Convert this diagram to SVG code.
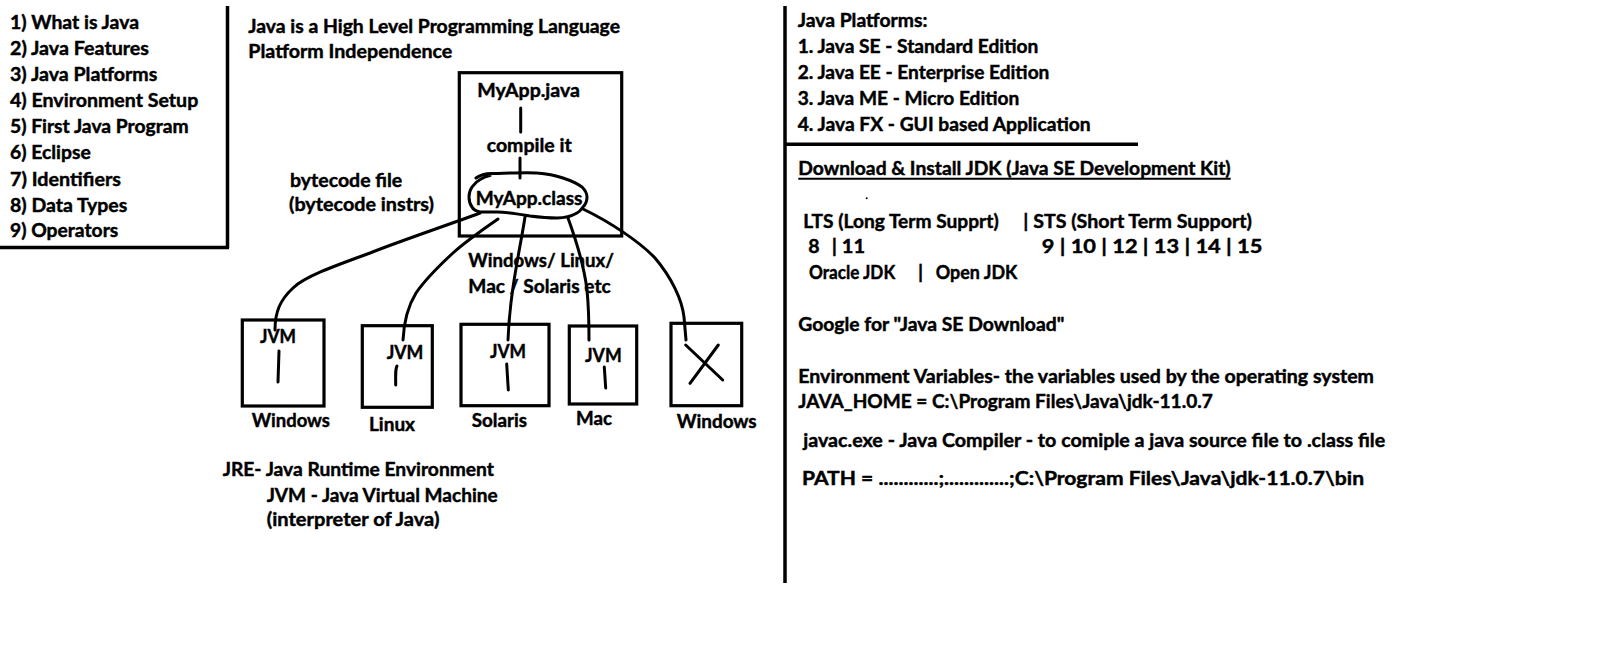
<svg xmlns="http://www.w3.org/2000/svg" width="1608" height="654" viewBox="0 0 1608 654">
<style>
.t{font-family:Lato,"Open Sans","Liberation Sans",sans-serif;font-weight:700;font-size:19.5px;fill:#000;stroke:#000;stroke-width:0.45px}
.ln{fill:none;stroke:#000;stroke-width:3;stroke-linecap:round;stroke-linejoin:round}
.bx{fill:none;stroke:#000;stroke-width:3.2}
.dv{fill:none;stroke:#000;stroke-width:3.5}
</style>
<rect width="1608" height="654" fill="#fff"/>

<g id="topics">
<path class="dv" d="M227.5,6 V248 M0,247.5 H229"/>
<text class="t" x="10" y="29.3" textLength="129" lengthAdjust="spacingAndGlyphs">1) What is Java</text>
<text class="t" x="10" y="55.3" textLength="139" lengthAdjust="spacingAndGlyphs">2) Java Features</text>
<text class="t" x="10" y="81.3" textLength="147.3" lengthAdjust="spacingAndGlyphs">3) Java Platforms</text>
<text class="t" x="10" y="107.3" textLength="188.3" lengthAdjust="spacingAndGlyphs">4) Environment Setup</text>
<text class="t" x="10" y="133.3" textLength="178.7" lengthAdjust="spacingAndGlyphs">5) First Java Program</text>
<text class="t" x="10" y="159.3" textLength="80.7" lengthAdjust="spacingAndGlyphs">6) Eclipse</text>
<text class="t" x="10" y="185.5" textLength="111" lengthAdjust="spacingAndGlyphs">7) Identifiers</text>
<text class="t" x="10" y="211.5" textLength="117.3" lengthAdjust="spacingAndGlyphs">8) Data Types</text>
<text class="t" x="10" y="237.3" textLength="108.3" lengthAdjust="spacingAndGlyphs">9) Operators</text>
</g>

<g id="intro">
<text class="t" x="248.3" y="32.7" textLength="371.7" lengthAdjust="spacingAndGlyphs">Java is a High Level Programming Language</text>
<text class="t" x="248.3" y="58.3" textLength="204" lengthAdjust="spacingAndGlyphs">Platform Independence</text>
<text class="t" x="290" y="187.3" textLength="112.3" lengthAdjust="spacingAndGlyphs">bytecode file</text>
<text class="t" x="289" y="211" textLength="145" lengthAdjust="spacingAndGlyphs">(bytecode instrs)</text>
<text class="t" x="468.3" y="266.7" textLength="145.7" lengthAdjust="spacingAndGlyphs">Windows/ Linux/</text>
<text class="t" x="468.3" y="292.7" textLength="142.4" lengthAdjust="spacingAndGlyphs">Mac / Solaris etc</text>
</g>

<g id="myapp">
<rect class="bx" x="459.3" y="72.7" width="162.4" height="163.3"/>
<text class="t" x="477.3" y="96.7" textLength="102.7" lengthAdjust="spacingAndGlyphs">MyApp.java</text>
<path class="ln" d="M520.7,108 V132"/>
<text class="t" x="486.7" y="151.7" textLength="85" lengthAdjust="spacingAndGlyphs">compile it</text>
<path class="ln" d="M520,158 V178"/>
<text class="t" x="475.7" y="204.5" textLength="106.7" lengthAdjust="spacingAndGlyphs">MyApp.class</text>
<path class="ln" d="M476,178 C480,175 486,173 494,173.5 C510,173 530,172 537,173 C550,174 557,176 563,178 C572,181 578,184 582,187 C586,191 587,194 587,197 C587,201 586,204 583,207 C581,210 579,212 577,213 C570,217 563,218 557,218 C548,218 538,217 530,216 C518,214 507,212 497,212 C490,212 484,212 480,212 C476,211 473,209 472,207 C469,203 469,200 469,197 C469,193 470,190 472,187 C474,184 477,181 481,179 C484,177 487,176 490,175.5"/>
</g>

<g id="connectors">
<path class="ln" d="M480,213 C445,226 400,241 370,253 C340,264 305,276 293,288 C280,300 275,312 275,330"/>
<path class="ln" d="M498,219 C485,228 465,242 453,253 C440,265 425,280 416,293 C408,306 404,320 403,340"/>
<path class="ln" d="M525,217 C520,250 510,290 508,340"/>
<path class="ln" d="M568,218 C576,240 584,265 587,290 C589,310 589,325 589,340"/>
<path class="ln" d="M583,209 C610,222 640,242 655,258 C672,278 682,300 684,317 L686,340"/>
</g>

<g id="jvm-windows">
<rect class="bx" x="242.3" y="320" width="81.7" height="86"/>
<text class="t" x="260" y="343.3" textLength="36" lengthAdjust="spacingAndGlyphs">JVM</text>
<path class="ln" d="M279,351 L278,382"/>
<text class="t" x="251.7" y="426.5" textLength="78.3" lengthAdjust="spacingAndGlyphs">Windows</text>
</g>

<g id="jvm-linux">
<rect class="bx" x="362.3" y="325.7" width="70" height="81.6"/>
<text class="t" x="386.7" y="359.3" textLength="36.7" lengthAdjust="spacingAndGlyphs">JVM</text>
<path class="ln" d="M397,366 C395.5,368 395.5,372 395.7,385"/>
<text class="t" x="369" y="430.5" textLength="46" lengthAdjust="spacingAndGlyphs">Linux</text>
</g>

<g id="jvm-solaris">
<rect class="bx" x="461" y="324.3" width="88" height="81.4"/>
<text class="t" x="490" y="358.3" textLength="36" lengthAdjust="spacingAndGlyphs">JVM</text>
<path class="ln" d="M506.7,364 L508.3,390"/>
<text class="t" x="471.7" y="427" textLength="55.4" lengthAdjust="spacingAndGlyphs">Solaris</text>
</g>

<g id="jvm-mac">
<rect class="bx" x="569.3" y="326" width="67.4" height="78"/>
<text class="t" x="585" y="361.7" textLength="36.7" lengthAdjust="spacingAndGlyphs">JVM</text>
<path class="ln" d="M604.3,367 L605.7,388"/>
<text class="t" x="576" y="424.5" textLength="36" lengthAdjust="spacingAndGlyphs">Mac</text>
</g>

<g id="os-windows-nojvm">
<rect class="bx" x="671" y="323.3" width="70.7" height="82.4"/>
<path class="ln" d="M685.7,345 L722.7,380 M718.3,345 L690,383.3"/>
<text class="t" x="676.7" y="428" textLength="80" lengthAdjust="spacingAndGlyphs">Windows</text>
</g>

<g id="jre-notes">
<text class="t" x="222.7" y="475.7" textLength="271.3" lengthAdjust="spacingAndGlyphs">JRE- Java Runtime Environment</text>
<text class="t" x="266.7" y="501.7" textLength="231" lengthAdjust="spacingAndGlyphs">JVM - Java Virtual Machine</text>
<text class="t" x="266.7" y="526" textLength="172.7" lengthAdjust="spacingAndGlyphs">(interpreter of Java)</text>
</g>

<g id="platforms">
<path class="dv" d="M785,6 V583 M785,144.3 H1138"/>
<text class="t" x="797.7" y="27.3" textLength="129.7" lengthAdjust="spacingAndGlyphs">Java Platforms:</text>
<text class="t" x="797.7" y="53.3" textLength="240.7" lengthAdjust="spacingAndGlyphs">1. Java SE - Standard Edition</text>
<text class="t" x="797.7" y="79.3" textLength="251.7" lengthAdjust="spacingAndGlyphs">2. Java EE - Enterprise Edition</text>
<text class="t" x="797.7" y="105.3" textLength="221.7" lengthAdjust="spacingAndGlyphs">3. Java ME - Micro Edition</text>
<text class="t" x="797.7" y="131.3" textLength="293" lengthAdjust="spacingAndGlyphs">4. Java FX - GUI based Application</text>
</g>

<g id="jdk-notes">
<text class="t" x="798.3" y="175" textLength="432.3" lengthAdjust="spacingAndGlyphs">Download &amp; Install JDK (Java SE Development Kit)</text>
<path d="M798.3,178.7 H1230.7" stroke="#000" stroke-width="2"/>
<circle cx="866.7" cy="198.3" r="1" fill="#000"/>
<text class="t" y="228.3"><tspan x="803.3" textLength="200" lengthAdjust="spacingAndGlyphs">LTS (Long Term Supprt) </tspan><tspan x="1023.3" textLength="228.7" lengthAdjust="spacingAndGlyphs">| STS (Short Term Support)</tspan></text>
<text class="t" y="253.3"><tspan x="808.3">8 </tspan><tspan x="831.7" textLength="33.3" lengthAdjust="spacingAndGlyphs">| 11</tspan></text>
<text class="t" x="1041.7" y="253.3" textLength="220.7" lengthAdjust="spacingAndGlyphs">9 | 10 | 12 | 13 | 14 | 15</text>
<text class="t" y="279"><tspan x="809" textLength="90.3" lengthAdjust="spacingAndGlyphs">Oracle JDK </tspan><tspan x="918">| </tspan><tspan x="935.7" textLength="81.6" lengthAdjust="spacingAndGlyphs">Open JDK</tspan></text>
<text class="t" x="798.3" y="331" textLength="266" lengthAdjust="spacingAndGlyphs">Google for "Java SE Download"</text>
<text class="t" x="798.3" y="382.7" textLength="575.7" lengthAdjust="spacingAndGlyphs">Environment Variables- the variables used by the operating system</text>
<text class="t" x="798.3" y="408.3" textLength="414.5" lengthAdjust="spacingAndGlyphs">JAVA_HOME = C:\Program Files\Java\jdk-11.0.7</text>
<text class="t" x="803.2" y="447" textLength="582" lengthAdjust="spacingAndGlyphs">javac.exe - Java Compiler - to comiple a java source file to .class file</text>
<text class="t" x="802" y="485" textLength="562" lengthAdjust="spacingAndGlyphs">PATH = ............;.............;C:\Program Files\Java\jdk-11.0.7\bin</text>
</g>
</svg>
